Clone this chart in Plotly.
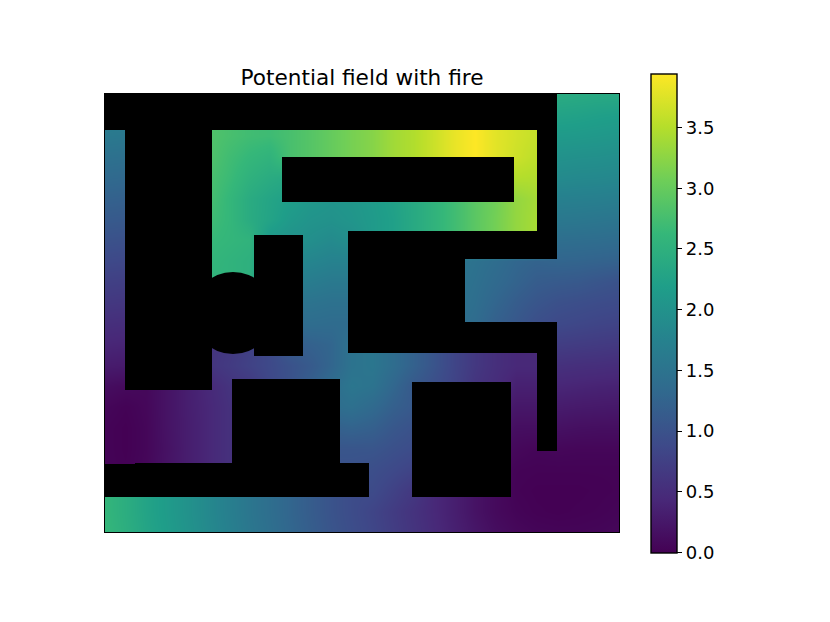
import numpy as np
import plotly.graph_objects as go

TITLE = "Potential field with fire"
WIDTH_UNITS = 514
HEIGHT_UNITS = 438
Z_MIN = 0.0
Z_MAX = 3.945
TICK_VALUES = [0, 0.5, 1, 1.5, 2, 2.5, 3, 3.5]
TICK_LABELS = ["0.0", "0.5", "1.0", "1.5", "2.0", "2.5", "3.0", "3.5"]

# potential values, one list per row of a coarse grid
row_00 = [1.7,1.7,1.7,2.8,2.8,2.85,2.78,2.72,2.7,2.78,2.88,3.0,3.12,3.22,3.38,3.48,3.64,3.82,3.945,3.78,3.68,3.6,2.42,2.4,2.38,2.38]
row_01 = [1.7,1.7,1.7,2.8,2.8,2.85,2.78,2.72,2.7,2.78,2.88,3.0,3.12,3.22,3.38,3.48,3.64,3.82,3.945,3.78,3.68,3.6,2.27,2.25,2.22,2.2]
row_02 = [1.6,1.58,1.6,2.8,2.8,2.85,2.78,2.72,2.7,2.78,2.88,3.0,3.12,3.22,3.38,3.48,3.64,3.82,3.945,3.78,3.68,3.6,2.13,2.12,2.1,2.08]
row_03 = [1.47,1.45,1.5,2.8,2.8,2.85,2.72,2.62,2.55,2.78,2.88,3.0,3.12,3.22,3.38,3.48,3.64,3.82,3.945,3.78,3.65,3.55,2.0,1.98,1.97,1.95]
row_04 = [1.35,1.33,1.4,2.8,2.8,2.8,2.68,2.52,2.42,2.35,2.2,2.2,2.2,2.3,2.4,2.5,2.6,2.8,3.0,3.2,3.5,3.48,1.88,1.86,1.85,1.83]
row_05 = [1.23,1.21,1.3,2.8,2.8,2.78,2.62,2.42,2.3,2.2,2.1,2.05,2.08,2.15,2.25,2.38,2.55,2.72,2.92,3.08,3.3,3.4,1.72,1.71,1.7,1.68]
row_06 = [1.12,1.1,1.2,2.7,2.7,2.72,2.62,2.42,2.28,2.12,2.03,2.0,2.05,2.13,2.22,2.38,2.55,2.72,2.92,3.1,3.3,3.42,1.58,1.57,1.55,1.53]
row_07 = [1.0,.98,1.1,2.65,2.65,2.65,2.6,2.55,2.1,2.0,1.95,1.88,1.95,2.13,2.22,2.38,2.55,2.72,2.92,3.1,3.3,3.42,1.42,1.41,1.4,1.38]
row_08 = [.88,.86,1.0,2.6,2.6,2.6,2.55,2.5,2.0,1.85,1.8,1.75,1.75,1.7,1.7,1.65,1.6,1.55,1.48,1.4,1.3,1.25,1.28,1.27,1.25,1.23]
row_09 = [.76,.74,.8,2.55,2.55,2.55,2.55,2.5,1.8,1.7,1.65,1.6,1.6,1.6,1.6,1.55,1.55,1.52,1.45,1.35,1.25,1.15,1.12,1.1,1.05,1.0]
row_10 = [.65,.63,.7,1,1,1,1,1,1.4,1.5,1.5,1.47,1.47,1.5,1.5,1.5,1.5,1.5,1.42,1.28,1.15,1.05,.98,.95,.92,.9]
row_11 = [.53,.51,.6,.6,.6,.6,.6,.7,1.2,1.35,1.4,1.38,1.38,1.4,1.4,1.45,1.45,1.45,1.38,1.2,1.08,.95,.88,.85,.82,.8]
row_12 = [.42,.4,.5,.5,.55,.6,.65,.75,.88,1.15,1.22,1.28,1.5,1.55,1.4,1.22,1.03,.82,.65,.53,.45,.45,.72,.7,.68,.66]
row_13 = [.3,.28,.35,.45,.55,.6,.68,.78,.88,1.0,1.12,1.28,1.5,1.55,1.4,1.22,1.03,.82,.65,.53,.45,.45,.55,.53,.52,.5]
row_14 = [.14,.1,.08,.2,.33,.45,.58,.65,.85,1,1.2,1.4,1.55,1.5,1.3,1.1,.95,.8,.6,.5,.35,.35,.42,.4,.38,.37]
row_15 = [.06,.02,.07,.2,.33,.43,.55,.6,.8,1,1.2,1.4,1.45,1.35,1.2,1.1,.95,.8,.5,.35,.25,.25,.3,.28,.27,.26]
row_16 = [.03,0,.06,.2,.32,.43,.55,.6,.8,1,1.1,1.2,1.25,1.2,1.08,1,.9,.7,.4,.25,.15,.15,.18,.16,.15,.15]
row_17 = [.03,0,.06,.19,.32,.43,.55,.6,.8,.9,1,1.05,1.05,1.05,.98,.92,.8,.6,.3,.15,.08,.05,.07,.06,.06,.06]
row_18 = [.03,.01,.07,.2,.32,.43,.55,.6,.8,.9,.95,1,1,.95,.88,.8,.7,.5,.2,.1,.03,.02,.02,.02,.02,.02]
row_19 = [2.6,2.45,2.28,2.15,2,1.85,1.7,1.55,1.42,1.28,1.15,1.02,.92,.9,.78,.65,.45,.33,.2,.1,.02,0,0,0,.01,.02]
row_20 = [2.6,2.45,2.28,2.15,2,1.85,1.7,1.55,1.42,1.28,1.15,1.02,.92,.82,.7,.58,.45,.33,.2,.1,.04,.01,0,.01,.02,.04]
row_21 = [2.62,2.47,2.3,2.17,2.02,1.87,1.72,1.57,1.44,1.3,1.17,1.04,.94,.84,.72,.6,.47,.35,.24,.14,.08,.05,.04,.04,.05,.07]
field = [row_00,row_01,row_02,row_03,row_04,row_05,row_06,row_07,row_08,row_09,row_10,
         row_11,row_12,row_13,row_14,row_15,row_16,row_17,row_18,row_19,row_20,row_21]

# obstacles: x0, x1, y0, y1
obstacle_x0 = [0, 20, 177, 432, 243, 243, 243, 432, 149, 127, 30, 0, 307]
obstacle_x1 = [452, 107, 409, 452, 432, 360, 452, 452, 198, 235, 264, 30, 406]
obstacle_y0 = [0, 36, 63, 0, 137, 137, 228, 228, 141, 285, 368.5, 370, 287.5]
obstacle_y1 = [36, 296, 108, 165, 165, 259, 259, 357, 262, 368.5, 403, 403, 403]
# the fire
fire_x = 128
fire_y = 219
fire_r = 41

xe = sorted(set(obstacle_x0 + obstacle_x1 + [0, WIDTH_UNITS]))
ye = sorted(set(obstacle_y0 + obstacle_y1 + [0, HEIGHT_UNITS]))
mask = np.full((len(ye) - 1, len(xe) - 1), np.nan)
for a, b, c, d in zip(obstacle_x0, obstacle_x1, obstacle_y0, obstacle_y1):
    for i in range(len(xe) - 1):
        for j in range(len(ye) - 1):
            if xe[i] >= a and xe[i + 1] <= b and ye[j] >= c and ye[j + 1] <= d:
                mask[j, i] = 1.0

nx = len(field[0])
ny = len(field)
fig = go.Figure()
fig.add_trace(go.Heatmap(
    z=field,
    x0=0, dx=WIDTH_UNITS / (nx - 1),
    y0=0, dy=HEIGHT_UNITS / (ny - 1),
    zmin=Z_MIN, zmax=Z_MAX, zsmooth="best",
    colorscale="Viridis", hoverinfo="skip",
    colorbar=dict(
        x=(651 - 105) / 514, xanchor="left", xpad=0,
        y=(532 - 73.5) / 438, yanchor="top", ypad=0,
        len=478.5, lenmode="pixels",
        thickness=26, thicknessmode="pixels",
        outlinewidth=1.4, outlinecolor="black",
        ticks="outside", ticklen=5, tickwidth=1.2, tickcolor="black",
        tickvals=TICK_VALUES, ticktext=TICK_LABELS,
        tickfont=dict(family="DejaVu Sans", size=18, color="black"),
    ),
))
fig.add_trace(go.Heatmap(
    z=mask.tolist(), x=xe, y=ye,
    zmin=0, zmax=1,
    colorscale=[[0, "black"], [1, "black"]],
    showscale=False, hoverinfo="skip",
))
fig.add_shape(type="circle", xref="x", yref="y",
              x0=fire_x - fire_r, x1=fire_x + fire_r,
              y0=fire_y - fire_r, y1=fire_y + fire_r,
              fillcolor="black", line=dict(width=0), layer="above")
fig.update_layout(
    width=822, height=614, autosize=False,
    margin=dict(l=97, r=211, t=86, b=90),
    paper_bgcolor="white", plot_bgcolor="white",
    title=dict(text=TITLE, x=354 / 822, xanchor="center",
               y=1 - 69 / 614, yanchor="middle",
               font=dict(family="DejaVu Sans", size=21.6, color="black")),
    xaxis=dict(range=[0, WIDTH_UNITS], showticklabels=False, ticks="", showgrid=False,
               zeroline=False, showline=True, mirror=True, linecolor="black", linewidth=1.4),
    yaxis=dict(range=[HEIGHT_UNITS, 0], showticklabels=False, ticks="", showgrid=False,
               zeroline=False, showline=True, mirror=True, linecolor="black", linewidth=1.4),
)
fig.write_html("out.html")
